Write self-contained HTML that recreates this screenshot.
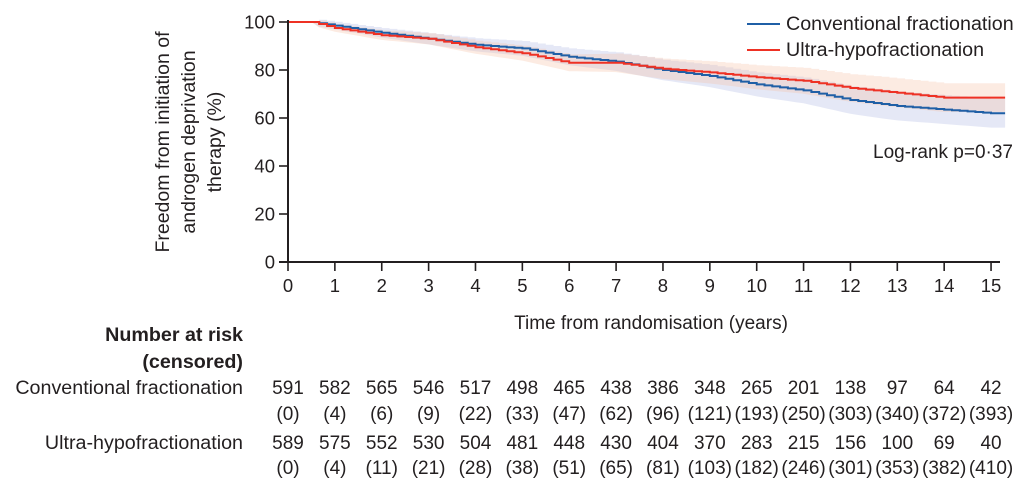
<!DOCTYPE html>
<html><head><meta charset="utf-8"><style>
html,body{margin:0;padding:0;background:#fff;width:1028px;height:493px;overflow:hidden}
svg{display:block;font-family:"Liberation Sans",sans-serif;}
text{fill:#231f20}
</style></head><body>
<svg id="s" width="1028" height="493" viewBox="0 0 1028 493">
<g id="bands"></g>
<g id="lines"></g>
<line x1="288" y1="20" x2="288" y2="262" stroke="#231f20" stroke-width="2"/>
<line x1="279" y1="262" x2="1000" y2="262" stroke="#231f20" stroke-width="2"/>
<g id="ticks" stroke="#231f20" stroke-width="1.6"></g>
<g id="lab" font-size="18.5"></g>
<g font-size="19.5" text-anchor="middle">
<text transform="translate(169,142) rotate(-90)">Freedom from initiation of</text>
<text transform="translate(195,142) rotate(-90)">androgen deprivation</text>
<text transform="translate(221,142) rotate(-90)">therapy (%)</text>
</g>
<text x="651" y="329" font-size="19" text-anchor="middle">Time from randomisation (years)</text>
<line x1="747" y1="24" x2="780" y2="24" stroke="#1f5fa6" stroke-width="2"/>
<line x1="747" y1="50" x2="780" y2="50" stroke="#ee3124" stroke-width="2"/>
<text x="786" y="30" font-size="19.7">Conventional fractionation</text>
<text x="786" y="56" font-size="19.7">Ultra-hypofractionation</text>
<text x="1013" y="158" font-size="19" text-anchor="end">Log-rank p=0·37</text>
<g font-size="19.7" text-anchor="end">
<text x="243" y="341" font-weight="bold">Number at risk</text>
<text x="243" y="368" font-weight="bold">(censored)</text>
<text x="243" y="394">Conventional fractionation</text>
<text x="243" y="449">Ultra-hypofractionation</text>
</g>
<g id="tab" font-size="19" text-anchor="middle"></g>
</svg>
<script>
var X=function(t){return 288+46.87*t},Y=function(v){return 262-2.4*v};
var NS="http://www.w3.org/2000/svg";
function el(p,n,a,txt){var e=document.createElementNS(NS,n);for(var k in a)e.setAttribute(k,a[k]);if(txt!=null)e.textContent=txt;document.getElementById(p).appendChild(e);return e}
var blue=[[0,100],[0.5,100],[1,98.5],[2,95.5],[3,93],[4,90.5],[5,89],[6,85.5],[7,83.5],[8,80],[9,77.5],[10,74],[11,71.5],[12,67.5],[13,65],[14,63.5],[15,62],[15.3,62]];
var red=[[0,100],[0.5,100],[1,97.5],[2,94.5],[3,93],[4,89.5],[5,87],[5.5,85],[6,83],[7,83],[8,80.5],[9,79],[10,77],[11,75.5],[12,72.5],[13,70.5],[14,68.5],[15.3,68.5]];
function interp(a,n){var o=[];for(var i=0;i<a.length-1;i++){var t0=a[i][0],t1=a[i+1][0],v0=a[i][1],v1=a[i+1][1];var k=Math.max(1,Math.round((t1-t0)*n));if(t0<0.5&&v0==v1)k=1;for(var j=0;j<k;j++){o.push([t0+(t1-t0)*j/k,v0+(v1-v0)*j/k]);}}o.push(a[a.length-1]);return o}
function step(p,off){var d="M"+X(p[0][0])+","+Y(p[0][1]+off(p[0][0]));for(var i=1;i<p.length;i++){d+="H"+X(p[i][0]).toFixed(1)+"V"+Y(p[i][1]+off(p[i][0])).toFixed(1)}return d}
function band(p,w,col){var up=step(p,function(t){return Math.min(w(t),100)});var lo=[];for(var i=p.length-1;i>=0;i--){lo.push(X(p[i][0]).toFixed(1)+","+Y(p[i][1]-w(p[i][0])).toFixed(1))}el("bands","path",{d:up+"L"+lo.join("L")+"Z",fill:col,stroke:"none"})}
var bp=interp(blue,6),rp=interp(red,6);
var w=function(t){return t<0.6?0:Math.min(1.2+t*0.38,6)};
band(bp,w,"rgba(170,180,225,0.3)");
band(rp,w,"rgba(245,190,160,0.3)");
el("lines","path",{d:step(bp,function(){return 0}),fill:"none",stroke:"#1f5fa6","stroke-width":2});
el("lines","path",{d:step(rp,function(){return 0}),fill:"none",stroke:"#ee3124","stroke-width":2});
for(var v=0;v<=100;v+=20){el("ticks","line",{x1:279,y1:Y(v),x2:288,y2:Y(v)});el("lab","text",{x:275,y:Y(v)+6.5,"text-anchor":"end"},v)}
for(var t=0;t<=15;t++){el("ticks","line",{x1:X(t),y1:262,x2:X(t),y2:271});el("lab","text",{x:X(t),y:292,"text-anchor":"middle"},t)}
var r=[[591,582,565,546,517,498,465,438,386,348,265,201,138,97,64,42],[0,4,6,9,22,33,47,62,96,121,193,250,303,340,372,393],[589,575,552,530,504,481,448,430,404,370,283,215,156,100,69,40],[0,4,11,21,28,38,51,65,81,103,182,246,301,353,382,410]];
var ys=[394,420,449,474];
for(var i=0;i<4;i++)for(var t=0;t<16;t++){el("tab","text",{x:X(t),y:ys[i]},i%2?"("+r[i][t]+")":r[i][t])}
</script>
</body></html>
